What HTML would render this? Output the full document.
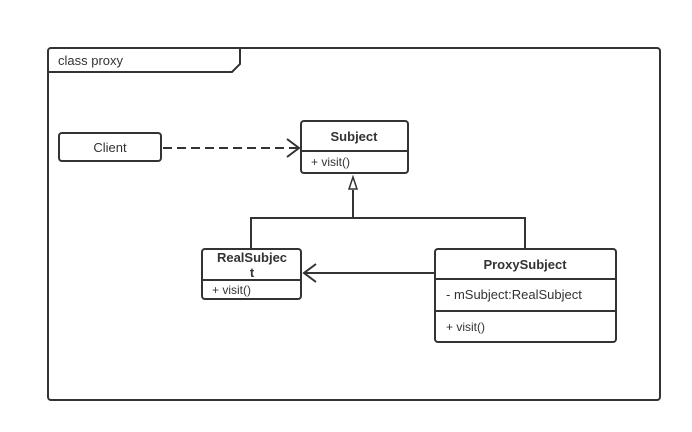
<!DOCTYPE html>
<html><head><style>body{margin:0;background:#fff}svg{display:block}text{font-family:"Liberation Sans",sans-serif;fill:#333}</style></head><body>
<svg width="692" height="432" viewBox="0 0 692 432" xmlns="http://www.w3.org/2000/svg">
<g fill="none" stroke="#333" stroke-width="2">
<rect x="48" y="48" width="612" height="352" rx="3"/>
<polyline points="48,72 232,72 240,64 240,48"/>
<rect x="59" y="133" width="102" height="28" rx="3"/>
<rect x="301" y="121" width="107" height="52" rx="3"/>
<line x1="301" y1="151" x2="408" y2="151"/>
<rect x="202" y="249" width="99" height="50" rx="3"/>
<line x1="202" y1="280" x2="301" y2="280"/>
<rect x="435" y="249" width="181" height="93" rx="3"/>
<line x1="435" y1="279" x2="616" y2="279"/>
<line x1="435" y1="311" x2="616" y2="311"/>
<line x1="163" y1="148" x2="298" y2="148" stroke-dasharray="9,5"/>
<polyline points="287,139 299,148 287,157"/>
<polyline points="251,249 251,218 525,218 525,249"/>
<line x1="353" y1="218" x2="353" y2="190"/>
<polygon points="353,177 349,189 357,189" stroke-width="1.5"/>
<line x1="435" y1="273" x2="304" y2="273"/>
<polyline points="316,264 304,273 316,282"/>
</g>
<text x="58" y="65" font-size="13">class proxy</text>
<text x="110" y="152" font-size="13" text-anchor="middle">Client</text>
<text x="354" y="141" font-size="13" font-weight="bold" text-anchor="middle">Subject</text>
<text x="311" y="166" font-size="12">+ visit()</text>
<text x="252" y="262" font-size="13" font-weight="bold" text-anchor="middle">RealSubjec</text>
<text x="252" y="277" font-size="13" font-weight="bold" text-anchor="middle">t</text>
<text x="212" y="294" font-size="12">+ visit()</text>
<text x="525" y="269" font-size="13" font-weight="bold" text-anchor="middle">ProxySubject</text>
<text x="446" y="299" font-size="13">- mSubject:RealSubject</text>
<text x="446" y="331" font-size="12">+ visit()</text>
</svg>
</body></html>
